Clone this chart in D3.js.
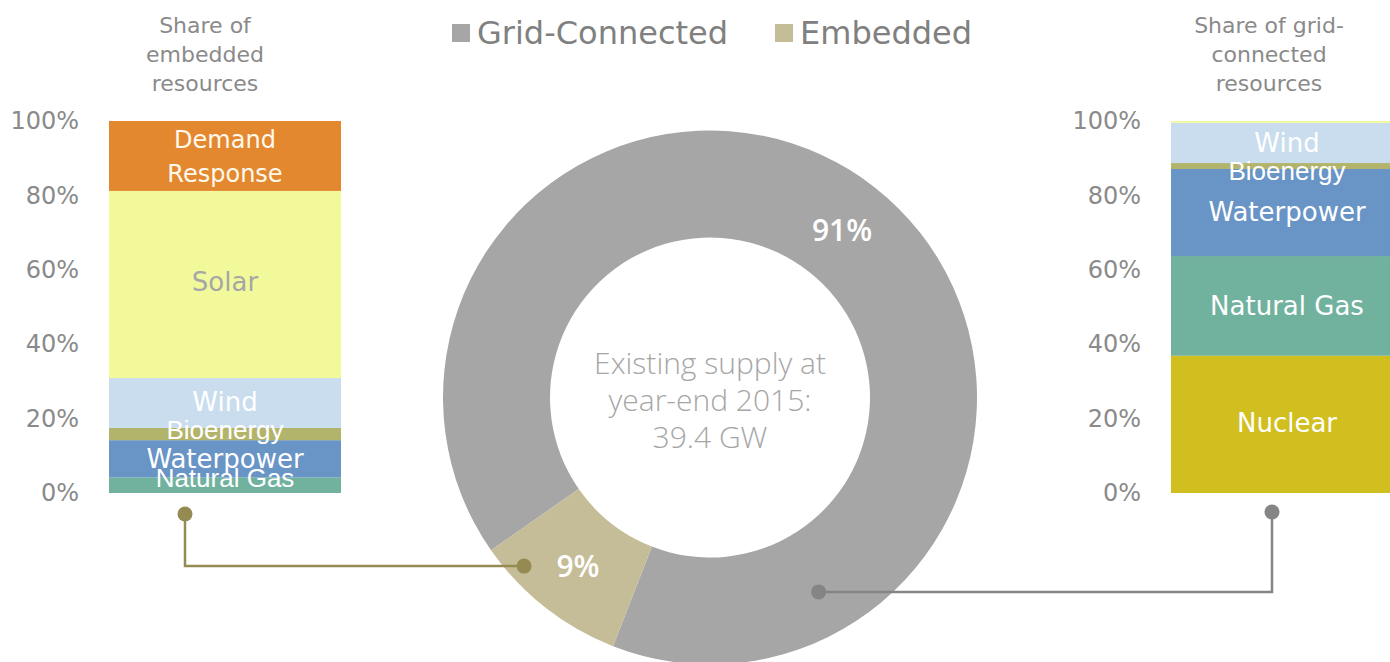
<!DOCTYPE html>
<html>
<head>
<meta charset="utf-8">
<script src="https://cdn.jsdelivr.net/npm/d3@7"></script>
<style>
  body { margin: 0; background: #fff; }
  svg { display: block; }
  .gothic { font-family: "DejaVu Sans", sans-serif; }
  .arial { font-family: "Liberation Sans", Arial, sans-serif; }
</style>
</head>
<body>
<div id="chart"></div>
<script>
// embedded resources, bottom to top (share in %)
var embeddedSources = ["Natural Gas", "Waterpower", "Bioenergy", "Wind", "Solar", "Demand Response"];
var embeddedShares = [4.2, 10.0, 3.3, 13.4, 50.3, 18.8];

// grid-connected resources, bottom to top (share in %)
var gridSources = ["Nuclear", "Natural Gas", "Waterpower", "Bioenergy", "Wind", "Solar"];
var gridShares = [36.9, 26.8, 23.4, 1.6, 10.8, 0.5];

// donut: existing supply at year-end 2015 (GW)
var supplyTypes = ["Grid-Connected", "Embedded"];
var supplyGW = [35.7, 3.7];

var axisTicks = [0, 20, 40, 60, 80, 100];

var sourceColor = d3.scaleOrdinal()
  .domain(["Demand Response", "Solar", "Wind", "Bioenergy", "Waterpower", "Natural Gas", "Nuclear"])
  .range(["#e3882f", "#f1f99b", "#c9ddee", "#b3b46b", "#6994c6", "#71b29e", "#d1be1f"]);
var supplyColor = d3.scaleOrdinal().domain(supplyTypes).range(["#a6a6a6", "#c5bd98"]);

var width = 1390, height = 662;
var svg = d3.select("#chart").append("svg").attr("width", width).attr("height", height);

var y = d3.scaleLinear().domain([0, 100]).range([493, 121]);

function drawBar(name, sources, shares, x0, barWidth, title, titleX, labelStyle){
  var row = {};
  for(var i = 0; i < sources.length; i++){ row[sources[i]] = shares[i]; }
  var stack = d3.stack().keys(sources)([row]);
  var x = d3.scaleBand().domain([name]).range([x0, x0 + barWidth]).padding(0);

  var g = svg.append("g");
  g.selectAll("rect").data(stack).enter().append("rect")
    .attr("x", x(name))
    .attr("width", x.bandwidth())
    .attr("y", function(d){ return y(d[0][1]); })
    .attr("height", function(d){ return y(d[0][0]) - y(d[0][1]); })
    .attr("fill", function(d){ return sourceColor(d.key); });

  // segment labels
  stack.forEach(function(d){
    var st = labelStyle[d.key];
    if(!st) return;
    var mid = (y(d[0][0]) + y(d[0][1])) / 2 + (st.dy || 0);
    var lines = st.lines || [d.key];
    var lh = st.lh || 30;
    var t = g.append("text")
      .attr("class", st.font)
      .attr("text-anchor", "middle")
      .attr("font-size", st.size)
      .attr("fill", st.color || "#ffffff");
    lines.forEach(function(line, k){
      t.append("tspan")
        .attr("x", x(name) + x.bandwidth() / 2)
        .attr("y", mid + (k - (lines.length - 1) / 2) * lh)
        .attr("dominant-baseline", "central")
        .text(line);
    });
  });

  // axis
  var axis = svg.append("g")
    .attr("transform", "translate(" + x0 + ",0)")
    .call(d3.axisLeft(y).tickValues(axisTicks).tickFormat(function(d){ return d + "%"; }).tickSize(0).tickPadding(30));
  axis.select(".domain").remove();
  axis.selectAll("text")
    .attr("class", "gothic")
    .attr("font-size", 24)
    .attr("fill", "#8a8a8a")
    .attr("font-family", null);

  // title
  var tt = svg.append("text").attr("class", "gothic").attr("text-anchor", "middle")
    .attr("font-size", 22).attr("fill", "#8a8a8a");
  title.forEach(function(line, k){
    tt.append("tspan").attr("x", titleX).attr("y", 25 + k * 29)
      .attr("dominant-baseline", "central").text(line);
  });
}

drawBar("embedded", embeddedSources, embeddedShares, 109, 232,
  ["Share of", "embedded", "resources"], 205, {
    "Demand Response": {font: "gothic", size: 24, lines: ["Demand", "Response"], lh: 34, dy: 1, color: "#fff8ec"},
    "Solar": {font: "gothic", size: 26, color: "#a6a6a6", dy: -2},
    "Wind": {font: "gothic", size: 26, dy: -1},
    "Bioenergy": {font: "arial", size: 26, dy: -4},
    "Waterpower": {font: "gothic", size: 26, dy: 0},
    "Natural Gas": {font: "arial", size: 26, dy: -7}
  });

drawBar("grid", gridSources, gridShares, 1171, 232,
  ["Share of grid-", "connected", "resources"], 1269, {
    "Wind": {font: "gothic", size: 26, dy: 0},
    "Bioenergy": {font: "arial", size: 26, dy: 5},
    "Waterpower": {font: "gothic", size: 26, dy: -1},
    "Natural Gas": {font: "gothic", size: 26, dy: 0},
    "Nuclear": {font: "gothic", size: 26, dy: -1}
  });

// donut
var cx = 710, cy = 397.5, rOuter = 267, rInner = 160;
var start = -124.9 * Math.PI / 180;
var pie = d3.pie().sort(null).startAngle(start).endAngle(start + 2 * Math.PI);
var arc = d3.arc().innerRadius(rInner).outerRadius(rOuter);
var total = d3.sum(supplyGW);
var slices = pie(supplyGW);

var donut = svg.append("g").attr("transform", "translate(" + cx + "," + cy + ")");
donut.selectAll("path").data(slices).enter().append("path")
  .attr("d", arc)
  .attr("fill", function(d, i){ return supplyColor(supplyTypes[i]); });

donut.selectAll("text.pct").data(slices).enter().append("text")
  .attr("class", "pct")
  .attr("transform", function(d){ return "translate(" + arc.centroid(d) + ")"; })
  .attr("text-anchor", "middle")
  .attr("dominant-baseline", "central")
  .attr("font-family", "'Open Sans', sans-serif")
  .attr("font-weight", 600)
  .attr("font-size", 30)
  .attr("fill", "#ffffff")
  .text(function(d){ return Math.round(d.value / total * 100) + "%"; });

var centerLines = ["Existing supply at", "year-end 2015:", "39.4 GW"];
var ct = donut.append("text").attr("text-anchor", "middle")
  .attr("font-family", "'Open Sans', sans-serif").attr("font-weight", 300)
  .attr("font-size", 30).attr("fill", "#a6a6a6");
centerLines.forEach(function(line, k){
  ct.append("tspan").attr("x", 0).attr("y", -35 + k * 37)
    .attr("dominant-baseline", "central").text(line);
});

// connectors
function connector(x1, y1, angleDeg, r, color){
  var p = d3.pointRadial(angleDeg * Math.PI / 180, r);
  var x2 = cx + p[0], y2 = cy + p[1];
  svg.append("path")
    .attr("d", "M" + x1 + "," + y1 + "V" + y2 + "H" + x2)
    .attr("fill", "none").attr("stroke", color).attr("stroke-width", 2.5);
  svg.append("circle").attr("cx", x1).attr("cy", y1).attr("r", 7.5).attr("fill", color);
  svg.append("circle").attr("cx", x2).attr("cy", y2).attr("r", 7.5).attr("fill", color);
}
connector(185, 514, 227.8, 251, "#958b52");
connector(1272, 512, 150.8, 222.7, "#858585");

// legend
var legend = svg.append("g");
var lx = 452;
supplyTypes.forEach(function(name){
  legend.append("rect").attr("x", lx).attr("y", 24).attr("width", 18).attr("height", 18)
    .attr("fill", supplyColor(name));
  var t = legend.append("text").attr("class", "gothic").attr("x", lx + 25).attr("y", 44)
    .attr("font-size", 32).attr("fill", "#808080").text(name);
  lx = lx + 25 + t.node().getComputedTextLength() + 47;
});
</script>
</body>
</html>
